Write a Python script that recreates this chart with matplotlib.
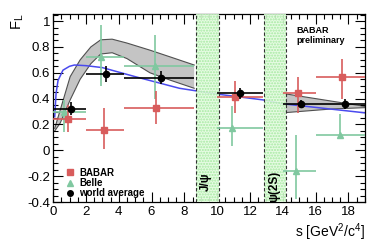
import matplotlib
matplotlib.use("Agg")
import matplotlib.pyplot as plt
import numpy as np
from matplotlib.ticker import MultipleLocator
from matplotlib.lines import Line2D

plt.rcParams['font.family'] = ['Liberation Sans', 'DejaVu Sans']
plt.rcParams['mathtext.default'] = 'regular'

# bins (s ranges)
bin_lo = [0.0, 2.0, 4.3, 10.0, 14.0, 16.0]
bin_hi = [2.0, 4.3, 8.6, 12.8, 16.0, 19.0]

# world average
wa_x = [1.1, 3.2, 6.6, 11.4, 15.1, 17.8]
wa_y = [0.32, 0.59, 0.56, 0.44, 0.36, 0.36]
wa_err = [0.05, 0.06, 0.05, 0.04, 0.03, 0.04]

# BABAR
bb_x = [0.9, 3.1, 6.3, 11.1, 14.9, 17.6]
bb_y = [0.24, 0.16, 0.33, 0.41, 0.44, 0.57]
bb_up = [0.11, 0.17, 0.13, 0.13, 0.13, 0.14]
bb_dn = [0.10, 0.15, 0.13, 0.12, 0.15, 0.17]

# Belle
be_x = [0.67, 2.9, 6.2, 10.9, 14.8, 17.5]
be_y = [0.30, 0.72, 0.65, 0.17, -0.16, 0.12]
be_up = [0.09, 0.25, 0.24, 0.17, 0.28, 0.16]
be_dn = [0.16, 0.22, 0.25, 0.14, 0.22, 0.02]

# SM band, low q2 region
band1_s = [0.1, 0.43, 1.04, 1.65, 2.3, 2.9, 3.6, 4.5, 5.9, 7.2, 8.6]
band1_hi = [0.17, 0.31, 0.57, 0.70, 0.80, 0.855, 0.86, 0.83, 0.775, 0.72, 0.66]
band1_lo = [0.15, 0.21, 0.39, 0.55, 0.67, 0.745, 0.755, 0.71, 0.60, 0.54, 0.48]
# SM band, high q2 region
band2_s = [14.0, 15.5, 17.0, 19.0]
band2_hi = [0.44, 0.41, 0.38, 0.34]
band2_lo = [0.29, 0.305, 0.32, 0.33]

# blue curve
blue_s = [0.1, 0.18, 0.3, 0.6, 1.0, 1.3, 2.0, 3.0, 5.0, 7.7, 10.0, 12.8, 14.0, 19.0]
blue_y = [0.26, 0.44, 0.54, 0.62, 0.65, 0.66, 0.655, 0.64, 0.57, 0.48, 0.435, 0.39, 0.36, 0.29]

# vetoed charmonium regions
veto_lo = [8.68, 12.86]
veto_hi = [10.09, 14.18]
veto_lbl = ['J/\u03c8', '\u03c8(2S)']

red = '#d85c5c'
green = '#80c8a0'
blue = '#4a4aee'

fig = plt.figure(figsize=(3.82, 2.45), dpi=100)
ax = fig.add_axes([0.139, 0.1755, 0.816, 0.7675])

ax.fill_between(band1_s, band1_lo, band1_hi, facecolor='#c4c4c4', edgecolor='none', zorder=1)
ax.plot(band1_s, band1_hi, color='#505050', lw=0.8, zorder=1.5)
ax.plot(band1_s, band1_lo, color='#505050', lw=0.8, zorder=1.5)
ax.fill_between(band2_s, band2_lo, band2_hi, facecolor='#c4c4c4', edgecolor='none', zorder=1)
ax.plot(band2_s, band2_hi, color='#505050', lw=0.8, zorder=1.5)
ax.plot(band2_s, band2_lo, color='#505050', lw=0.8, zorder=1.5)

ax.plot(blue_s, blue_y, color=blue, lw=1.1, zorder=2)

for lo, hi, lbl, yy in zip(veto_lo, veto_hi, veto_lbl, [-0.24, -0.28]):
    ax.axvspan(lo, hi, facecolor='#e4fbe0', edgecolor='#9fe89a', hatch='......', lw=0, alpha=0.9, zorder=3)
    ax.axvline(lo, color='#333333', ls=(0, (3, 2)), lw=0.8, zorder=3.5)
    ax.axvline(hi, color='#333333', ls=(0, (3, 2)), lw=0.8, zorder=3.5)
    ax.text((lo + hi) / 2 - 0.05, yy, lbl, rotation=90, ha='center', va='center',
            fontsize=8.5, fontweight='bold', zorder=4)

def xerrs(xs):
    return [np.array(xs) - np.array(bin_lo), np.array(bin_hi) - np.array(xs)]

ax.errorbar(be_x, be_y, yerr=[be_dn, be_up], xerr=xerrs(be_x), fmt='^', color=green,
            ms=4, lw=1.2, capsize=0, zorder=4)
ax.errorbar(bb_x, bb_y, yerr=[bb_dn, bb_up], xerr=xerrs(bb_x), fmt='s', color=red,
            ms=4, lw=1.2, capsize=0, zorder=5)
ax.errorbar(wa_x, wa_y, yerr=wa_err, xerr=xerrs(wa_x), fmt='o', color='black',
            ms=4.5, lw=1.2, capsize=0, zorder=6)

ax.set_xlim(0, 19)
ax.set_ylim(-0.4, 1.055)
ax.xaxis.set_major_locator(MultipleLocator(2))
ax.xaxis.set_minor_locator(MultipleLocator(0.5))
ax.yaxis.set_major_locator(MultipleLocator(0.2))
ax.yaxis.set_minor_locator(MultipleLocator(0.05))
ax.tick_params(which='both', direction='in', top=True, right=True, labelsize=9.5)
ax.tick_params(which='major', length=7, width=0.8)
ax.tick_params(which='minor', length=3.5, width=0.8)
ax.tick_params(axis='x', pad=3)
ax.tick_params(axis='y', pad=2)
ax.set_yticks([-0.4, -0.2, 0, 0.2, 0.4, 0.6, 0.8, 1.0])
ax.set_yticklabels(['-0.4', '-0.2', '0', '0.2', '0.4', '0.6', '0.8', '1'])

ax.set_ylabel('F$_L$', loc='top', fontsize=10.5, labelpad=1)
ax.set_xlabel('s [GeV$^2$/c$^4$]', loc='right', fontsize=10, labelpad=2)

ax.text(0.78, 0.935, 'BABAR\npreliminary', transform=ax.transAxes, ha='left', va='top',
        fontsize=6.5, fontweight='bold', linespacing=1.1)

handles = [Line2D([], [], ls='none', marker='s', color=red, ms=4),
           Line2D([], [], ls='none', marker='^', color=green, ms=4),
           Line2D([], [], ls='none', marker='o', color='black', ms=4)]
ax.legend(handles, ['BABAR', 'Belle', 'world average'], loc='lower left', frameon=False,
          prop={'weight': 'bold', 'size': 7}, labelspacing=0.02, handlelength=1.0,
          handletextpad=0.5, borderaxespad=0.0, bbox_to_anchor=(0.025, 0.0))

for sp in ax.spines.values():
    sp.set_linewidth(0.9)

fig.savefig('out.png', dpi=100)
